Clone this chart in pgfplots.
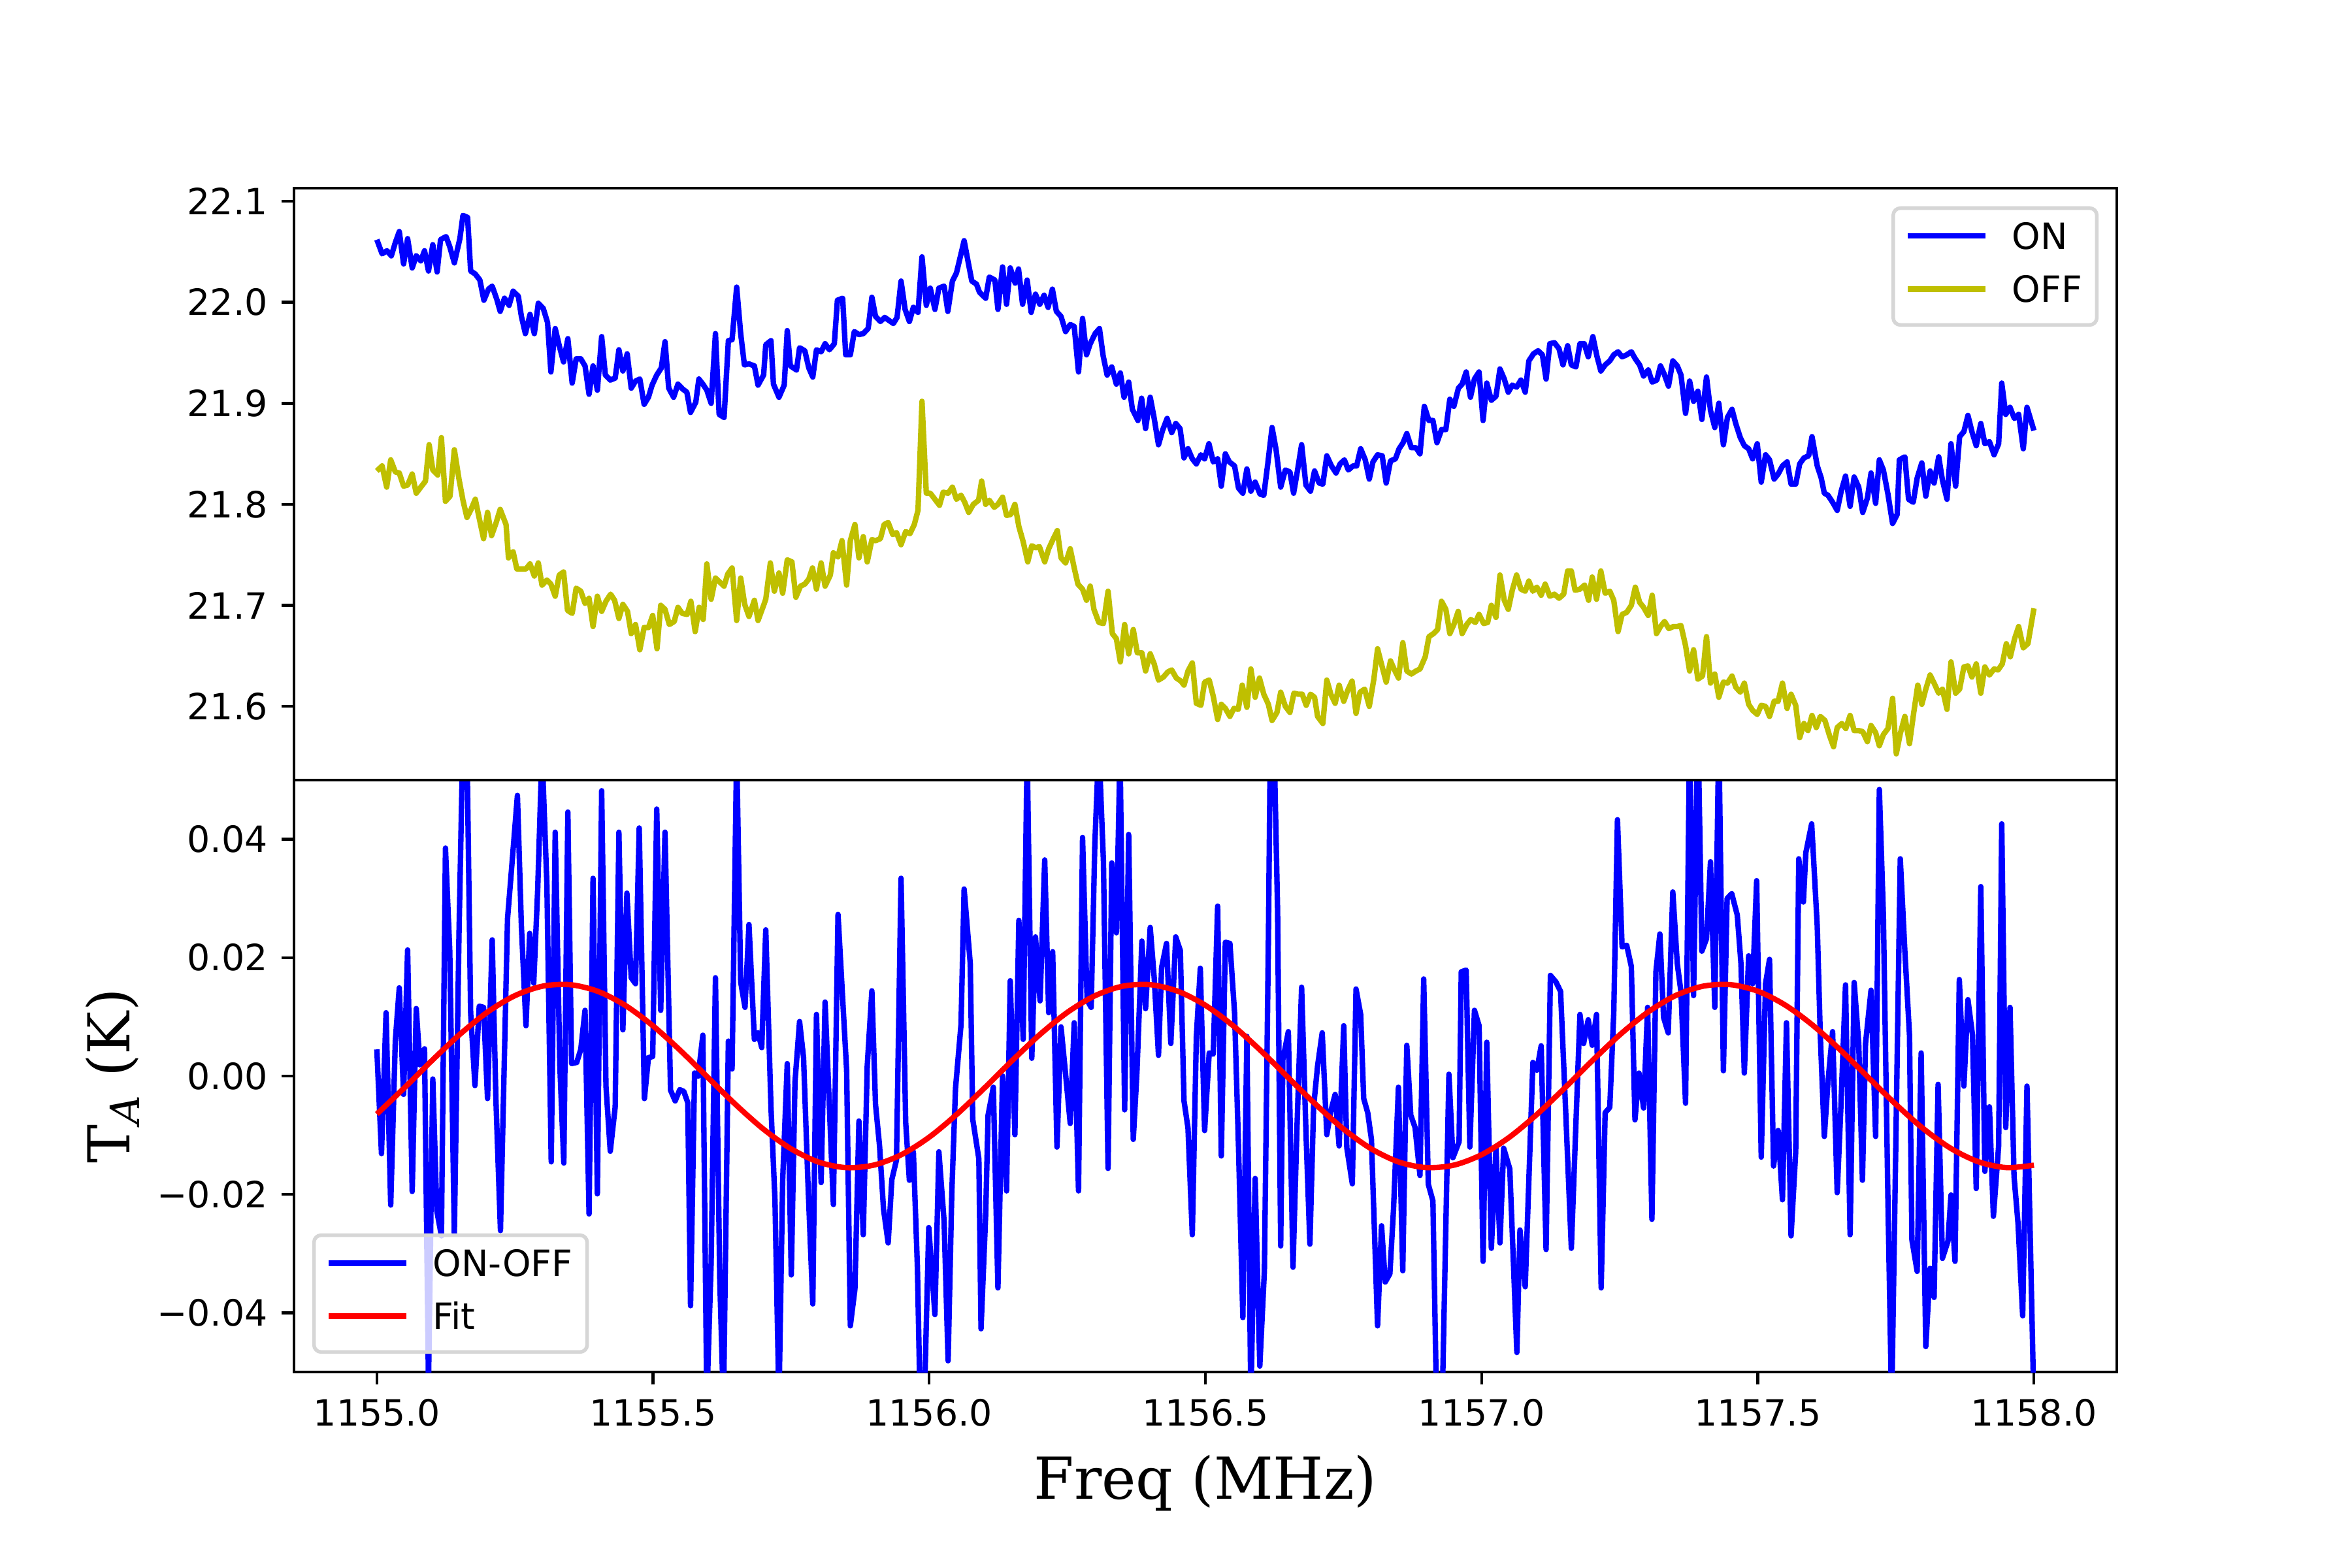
\documentclass[border=0pt]{standalone}
\usepackage{fontspec}
\setmainfont{DejaVu Sans}
\newfontfamily\seriffont{DejaVu Serif}
\usepackage{pgfplots}
\pgfplotsset{compat=1.18}
\usepackage{pgfplotstable}

\definecolor{mplblue}{RGB}{0,0,255}
\definecolor{mplyellow}{RGB}{191,191,0}
\definecolor{mplred}{RGB}{255,0,0}
\definecolor{legedge}{RGB}{214,214,214}

\pgfplotstableread{
f v
1155.0000 22.062
1155.0095 22.048
1155.0184 22.051
1155.0262 22.046
1155.0334 22.059
1155.0406 22.070
1155.0484 22.038
1155.0557 22.063
1155.0640 22.034
1155.0713 22.046
1155.0796 22.041
1155.0863 22.051
1155.0935 22.031
1155.1013 22.057
1155.1091 22.030
1155.1153 22.062
1155.1253 22.065
1155.1320 22.055
1155.1403 22.039
1155.1503 22.063
1155.1559 22.086
1155.1643 22.084
1155.1698 22.031
1155.1782 22.028
1155.1865 22.022
1155.1938 22.002
1155.2021 22.013
1155.2088 22.016
1155.2171 22.003
1155.2233 21.991
1155.2311 22.004
1155.2394 21.997
1155.2467 22.011
1155.2561 22.006
1155.2617 21.986
1155.2689 21.969
1155.2773 21.988
1155.2851 21.969
1155.2923 21.999
1155.3012 21.994
1155.3090 21.980
1155.3151 21.931
1155.3229 21.974
1155.3302 21.957
1155.3380 21.941
1155.3458 21.964
1155.3536 21.920
1155.3608 21.944
1155.3692 21.944
1155.3769 21.937
1155.3842 21.909
1155.3914 21.937
1155.3992 21.913
1155.4070 21.966
1155.4137 21.928
1155.4226 21.923
1155.4315 21.925
1155.4382 21.953
1155.4454 21.932
1155.4532 21.949
1155.4605 21.915
1155.4683 21.922
1155.4761 21.924
1155.4839 21.899
1155.4917 21.906
1155.4983 21.918
1155.5067 21.928
1155.5150 21.935
1155.5217 21.961
1155.5284 21.915
1155.5373 21.906
1155.5451 21.919
1155.5540 21.914
1155.5612 21.911
1155.5679 21.891
1155.5774 21.901
1155.5830 21.924
1155.5902 21.919
1155.5974 21.913
1155.6052 21.900
1155.6130 21.969
1155.6197 21.889
1155.6286 21.886
1155.6364 21.962
1155.6431 21.963
1155.6514 22.015
1155.6587 21.969
1155.6654 21.938
1155.6737 21.939
1155.6835 21.937
1155.6901 21.918
1155.7002 21.928
1155.7041 21.958
1155.7135 21.962
1155.7180 21.919
1155.7280 21.906
1155.7375 21.918
1155.7430 21.972
1155.7486 21.937
1155.7597 21.933
1155.7653 21.955
1155.7748 21.952
1155.7820 21.935
1155.7892 21.926
1155.7959 21.953
1155.8043 21.951
1155.8115 21.959
1155.8193 21.953
1155.8282 21.959
1155.8338 22.002
1155.8433 22.004
1155.8488 21.948
1155.8572 21.948
1155.8644 21.971
1155.8728 21.968
1155.8806 21.969
1155.8895 21.974
1155.8962 22.005
1155.9028 21.986
1155.9117 21.981
1155.9195 21.985
1155.9273 21.982
1155.9351 21.979
1155.9418 21.985
1155.9490 22.021
1155.9563 21.993
1155.9641 21.981
1155.9713 21.995
1155.9797 21.990
1155.9869 22.045
1155.9947 21.997
1156.0019 22.014
1156.0103 21.993
1156.0175 22.014
1156.0270 22.016
1156.0337 21.991
1156.0420 22.021
1156.0493 22.029
1156.0576 22.048
1156.0632 22.061
1156.0715 22.037
1156.0771 22.021
1156.0855 22.018
1156.0910 22.010
1156.1022 22.004
1156.1088 22.025
1156.1189 22.022
1156.1244 21.993
1156.1328 22.035
1156.1400 21.998
1156.1467 22.034
1156.1556 22.019
1156.1617 22.033
1156.1690 21.998
1156.1773 22.022
1156.1846 21.990
1156.1924 22.008
1156.2002 21.998
1156.2080 22.007
1156.2152 21.995
1156.2230 22.013
1156.2302 21.991
1156.2386 21.986
1156.2469 21.971
1156.2553 21.978
1156.2625 21.976
1156.2703 21.931
1156.2776 21.984
1156.2848 21.948
1156.2915 21.959
1156.3004 21.969
1156.3082 21.974
1156.3149 21.947
1156.3221 21.928
1156.3305 21.936
1156.3388 21.919
1156.3460 21.930
1156.3527 21.906
1156.3611 21.921
1156.3678 21.894
1156.3778 21.883
1156.3845 21.905
1156.3917 21.875
1156.4001 21.906
1156.4067 21.887
1156.4151 21.859
1156.4223 21.873
1156.4307 21.885
1156.4390 21.871
1156.4463 21.880
1156.4541 21.875
1156.4613 21.846
1156.4685 21.855
1156.4763 21.845
1156.4836 21.840
1156.4919 21.849
1156.4986 21.845
1156.5064 21.860
1156.5142 21.842
1156.5222 21.845
1156.5288 21.818
1156.5361 21.850
1156.5433 21.842
1156.5528 21.838
1156.5600 21.816
1156.5678 21.811
1156.5751 21.835
1156.5823 21.813
1156.5901 21.822
1156.5990 21.810
1156.6057 21.809
1156.6129 21.840
1156.6207 21.876
1156.6280 21.854
1156.6363 21.817
1156.6447 21.834
1156.6530 21.832
1156.6597 21.811
1156.6669 21.834
1156.6742 21.859
1156.6820 21.819
1156.6903 21.813
1156.6976 21.833
1156.7059 21.821
1156.7126 21.820
1156.7198 21.848
1156.7282 21.838
1156.7365 21.831
1156.7438 21.840
1156.7516 21.844
1156.7588 21.834
1156.7672 21.838
1156.7738 21.838
1156.7811 21.855
1156.7894 21.844
1156.7967 21.825
1156.8033 21.842
1156.8117 21.849
1156.8201 21.848
1156.8273 21.821
1156.8351 21.843
1156.8440 21.845
1156.8507 21.855
1156.8579 21.861
1156.8646 21.870
1156.8729 21.856
1156.8813 21.856
1156.8885 21.850
1156.8963 21.897
1156.9047 21.883
1156.9119 21.883
1156.9192 21.861
1156.9275 21.874
1156.9353 21.874
1156.9425 21.904
1156.9498 21.897
1156.9581 21.915
1156.9648 21.919
1156.9721 21.931
1156.9799 21.906
1156.9871 21.924
1156.9954 21.931
1157.0027 21.883
1157.0094 21.920
1157.0177 21.903
1157.0261 21.907
1157.0333 21.934
1157.0411 21.924
1157.0483 21.911
1157.0556 21.918
1157.0634 21.916
1157.0712 21.923
1157.0790 21.911
1157.0856 21.942
1157.0940 21.949
1157.1023 21.952
1157.1101 21.948
1157.1168 21.924
1157.1235 21.959
1157.1319 21.960
1157.1402 21.954
1157.1474 21.938
1157.1558 21.957
1157.1625 21.938
1157.1708 21.936
1157.1781 21.959
1157.1859 21.959
1157.1931 21.946
1157.2015 21.966
1157.2087 21.947
1157.2159 21.932
1157.2237 21.938
1157.2321 21.942
1157.2393 21.948
1157.2471 21.951
1157.2544 21.946
1157.2627 21.948
1157.2711 21.951
1157.2783 21.944
1157.2861 21.938
1157.2933 21.927
1157.3017 21.933
1157.3089 21.921
1157.3173 21.923
1157.3239 21.937
1157.3306 21.929
1157.3384 21.917
1157.3462 21.942
1157.3543 21.937
1157.3610 21.928
1157.3693 21.890
1157.3766 21.922
1157.3838 21.902
1157.3916 21.912
1157.3988 21.884
1157.4072 21.926
1157.4144 21.893
1157.4222 21.876
1157.4295 21.900
1157.4378 21.859
1157.4451 21.886
1157.4534 21.894
1157.4601 21.880
1157.4684 21.866
1157.4757 21.858
1157.4835 21.855
1157.4907 21.845
1157.4991 21.860
1157.5063 21.822
1157.5141 21.849
1157.5213 21.844
1157.5297 21.825
1157.5369 21.830
1157.5447 21.838
1157.5531 21.842
1157.5603 21.820
1157.5687 21.820
1157.5759 21.840
1157.5837 21.846
1157.5921 21.848
1157.5982 21.867
1157.6077 21.838
1157.6149 21.826
1157.6205 21.811
1157.6271 21.809
1157.6355 21.802
1157.6438 21.794
1157.6511 21.813
1157.6589 21.828
1157.6672 21.798
1157.6745 21.827
1157.6828 21.817
1157.6900 21.792
1157.6984 21.806
1157.7051 21.831
1157.7134 21.801
1157.7201 21.844
1157.7274 21.834
1157.7357 21.810
1157.7441 21.781
1157.7524 21.790
1157.7563 21.844
1157.7663 21.847
1157.7730 21.805
1157.7814 21.802
1157.7886 21.826
1157.7970 21.841
1157.8042 21.808
1157.8120 21.833
1157.8192 21.821
1157.8276 21.847
1157.8343 21.824
1157.8426 21.805
1157.8498 21.860
1157.8582 21.818
1157.8654 21.867
1157.8732 21.872
1157.8805 21.888
1157.8877 21.872
1157.8955 21.858
1157.9038 21.880
1157.9111 21.860
1157.9194 21.862
1157.9278 21.849
1157.9361 21.860
1157.9417 21.920
1157.9489 21.889
1157.9567 21.896
1157.9645 21.885
1157.9723 21.889
1157.9807 21.855
1157.9874 21.896
1158.0000 21.873
}\onTable

\pgfplotstableread{
f v
1155.0000 21.833
1155.0095 21.838
1155.0178 21.817
1155.0251 21.844
1155.0334 21.832
1155.0406 21.831
1155.0484 21.818
1155.0557 21.819
1155.0640 21.830
1155.0713 21.811
1155.0796 21.817
1155.0880 21.823
1155.0947 21.859
1155.1013 21.834
1155.1102 21.829
1155.1169 21.866
1155.1242 21.803
1155.1325 21.808
1155.1403 21.854
1155.1487 21.825
1155.1559 21.804
1155.1631 21.787
1155.1698 21.794
1155.1782 21.805
1155.1854 21.786
1155.1932 21.766
1155.2004 21.792
1155.2077 21.769
1155.2155 21.781
1155.2233 21.795
1155.2339 21.780
1155.2383 21.747
1155.2467 21.753
1155.2534 21.736
1155.2617 21.736
1155.2700 21.736
1155.2773 21.741
1155.2851 21.729
1155.2923 21.742
1155.2990 21.720
1155.3079 21.725
1155.3151 21.721
1155.3229 21.709
1155.3302 21.730
1155.3380 21.733
1155.3452 21.695
1155.3536 21.692
1155.3608 21.717
1155.3692 21.714
1155.3769 21.702
1155.3842 21.707
1155.3914 21.679
1155.3992 21.709
1155.4070 21.694
1155.4148 21.704
1155.4232 21.711
1155.4304 21.705
1155.4382 21.687
1155.4454 21.701
1155.4538 21.694
1155.4605 21.672
1155.4683 21.681
1155.4761 21.656
1155.4839 21.678
1155.4917 21.678
1155.4994 21.690
1155.5072 21.657
1155.5139 21.700
1155.5217 21.696
1155.5295 21.681
1155.5384 21.684
1155.5451 21.698
1155.5529 21.692
1155.5618 21.691
1155.5685 21.704
1155.5763 21.674
1155.5835 21.698
1155.5908 21.686
1155.5974 21.741
1155.6052 21.706
1155.6130 21.727
1155.6208 21.723
1155.6286 21.719
1155.6353 21.731
1155.6431 21.737
1155.6514 21.685
1155.6587 21.727
1155.6659 21.701
1155.6737 21.689
1155.6835 21.705
1155.6901 21.685
1155.7002 21.700
1155.7041 21.706
1155.7124 21.742
1155.7196 21.714
1155.7280 21.732
1155.7347 21.712
1155.7430 21.745
1155.7514 21.743
1155.7586 21.708
1155.7670 21.719
1155.7748 21.721
1155.7820 21.726
1155.7887 21.737
1155.7959 21.716
1155.8043 21.742
1155.8115 21.719
1155.8210 21.730
1155.8265 21.752
1155.8349 21.748
1155.8421 21.764
1155.8505 21.720
1155.8572 21.764
1155.8655 21.780
1155.8728 21.747
1155.8806 21.768
1155.8878 21.743
1155.8962 21.765
1155.9028 21.764
1155.9117 21.766
1155.9184 21.780
1155.9257 21.782
1155.9340 21.770
1155.9407 21.772
1155.9490 21.760
1155.9574 21.773
1155.9652 21.771
1155.9730 21.780
1155.9797 21.794
1155.9869 21.902
1155.9947 21.811
1156.0019 21.811
1156.0103 21.805
1156.0186 21.799
1156.0253 21.812
1156.0342 21.811
1156.0420 21.817
1156.0493 21.805
1156.0576 21.809
1156.0643 21.802
1156.0715 21.792
1156.0799 21.800
1156.0894 21.804
1156.0949 21.823
1156.1022 21.800
1156.1088 21.804
1156.1177 21.797
1156.1244 21.800
1156.1328 21.807
1156.1400 21.789
1156.1478 21.790
1156.1551 21.800
1156.1623 21.778
1156.1701 21.763
1156.1784 21.743
1156.1857 21.759
1156.1924 21.757
1156.1996 21.758
1156.2091 21.743
1156.2163 21.756
1156.2247 21.766
1156.2319 21.774
1156.2386 21.747
1156.2469 21.742
1156.2553 21.756
1156.2625 21.737
1156.2692 21.721
1156.2776 21.716
1156.2848 21.705
1156.2915 21.719
1156.2982 21.696
1156.3071 21.683
1156.3154 21.682
1156.3238 21.714
1156.3316 21.672
1156.3388 21.667
1156.3460 21.644
1156.3538 21.681
1156.3611 21.652
1156.3694 21.676
1156.3767 21.653
1156.3850 21.653
1156.3917 21.635
1156.4001 21.652
1156.4073 21.642
1156.4151 21.626
1156.4240 21.629
1156.4318 21.634
1156.4390 21.636
1156.4474 21.628
1156.4557 21.625
1156.4613 21.621
1156.4685 21.635
1156.4763 21.643
1156.4836 21.603
1156.4919 21.601
1156.4986 21.624
1156.5069 21.626
1156.5142 21.610
1156.5222 21.587
1156.5288 21.602
1156.5361 21.598
1156.5444 21.590
1156.5517 21.598
1156.5595 21.597
1156.5667 21.621
1156.5751 21.599
1156.5823 21.637
1156.5901 21.609
1156.5979 21.628
1156.6057 21.612
1156.6140 21.602
1156.6207 21.586
1156.6296 21.594
1156.6363 21.614
1156.6447 21.600
1156.6530 21.594
1156.6603 21.613
1156.6680 21.612
1156.6753 21.612
1156.6825 21.601
1156.6903 21.612
1156.6976 21.609
1156.7031 21.590
1156.7126 21.583
1156.7198 21.626
1156.7271 21.612
1156.7349 21.603
1156.7421 21.621
1156.7505 21.605
1156.7577 21.616
1156.7655 21.625
1156.7727 21.593
1156.7800 21.614
1156.7883 21.617
1156.7967 21.600
1156.8050 21.627
1156.8117 21.657
1156.8201 21.639
1156.8273 21.624
1156.8351 21.645
1156.8423 21.636
1156.8496 21.628
1156.8574 21.663
1156.8646 21.635
1156.8729 21.632
1156.8813 21.635
1156.8885 21.637
1156.8980 21.649
1156.9047 21.669
1156.9130 21.672
1156.9203 21.676
1156.9275 21.704
1156.9353 21.696
1156.9425 21.672
1156.9498 21.681
1156.9576 21.694
1156.9648 21.672
1156.9732 21.681
1156.9804 21.686
1156.9888 21.683
1156.9954 21.691
1157.0038 21.682
1157.0110 21.683
1157.0177 21.700
1157.0261 21.688
1157.0333 21.730
1157.0411 21.705
1157.0483 21.696
1157.0556 21.715
1157.0634 21.730
1157.0712 21.716
1157.0790 21.714
1157.0856 21.724
1157.0929 21.714
1157.1001 21.718
1157.1079 21.710
1157.1151 21.721
1157.1235 21.709
1157.1319 21.711
1157.1402 21.707
1157.1486 21.711
1157.1558 21.734
1157.1625 21.734
1157.1692 21.715
1157.1781 21.716
1157.1864 21.720
1157.1937 21.705
1157.2003 21.728
1157.2081 21.706
1157.2159 21.734
1157.2237 21.712
1157.2321 21.714
1157.2393 21.705
1157.2471 21.674
1157.2544 21.691
1157.2627 21.693
1157.2711 21.700
1157.2783 21.718
1157.2861 21.703
1157.2933 21.698
1157.3017 21.690
1157.3089 21.710
1157.3167 21.672
1157.3239 21.679
1157.3312 21.684
1157.3390 21.677
1157.3473 21.679
1157.3543 21.679
1157.3610 21.680
1157.3693 21.660
1157.3766 21.635
1157.3838 21.656
1157.3916 21.627
1157.4000 21.630
1157.4072 21.669
1157.4144 21.623
1157.4222 21.632
1157.4295 21.609
1157.4378 21.624
1157.4451 21.623
1157.4534 21.630
1157.4601 21.619
1157.4684 21.614
1157.4757 21.623
1157.4835 21.602
1157.4907 21.596
1157.4991 21.592
1157.5063 21.601
1157.5141 21.600
1157.5213 21.590
1157.5297 21.605
1157.5369 21.605
1157.5447 21.623
1157.5531 21.598
1157.5603 21.612
1157.5687 21.601
1157.5759 21.569
1157.5837 21.583
1157.5909 21.576
1157.5982 21.591
1157.6060 21.579
1157.6132 21.590
1157.6216 21.586
1157.6299 21.571
1157.6372 21.560
1157.6438 21.579
1157.6522 21.583
1157.6594 21.578
1157.6672 21.591
1157.6745 21.576
1157.6828 21.576
1157.6900 21.575
1157.6984 21.565
1157.7051 21.581
1157.7134 21.574
1157.7201 21.561
1157.7274 21.572
1157.7357 21.578
1157.7441 21.608
1157.7508 21.553
1157.7580 21.573
1157.7663 21.590
1157.7747 21.563
1157.7819 21.592
1157.7897 21.621
1157.7970 21.602
1157.8042 21.617
1157.8120 21.631
1157.8192 21.623
1157.8276 21.613
1157.8343 21.617
1157.8426 21.597
1157.8498 21.644
1157.8582 21.613
1157.8654 21.617
1157.8732 21.639
1157.8805 21.640
1157.8877 21.629
1157.8955 21.642
1157.9038 21.613
1157.9111 21.639
1157.9194 21.631
1157.9278 21.637
1157.9350 21.636
1157.9427 21.642
1157.9500 21.662
1157.9572 21.649
1157.9650 21.667
1157.9723 21.679
1157.9807 21.658
1157.9891 21.662
1158.0000 21.697
}\offTable

\pgfplotstableread{
f v
1155.0000 0.0045
1155.0084 -0.0131
1155.0167 0.0107
1155.0251 -0.0218
1155.0334 0.0059
1155.0406 0.0149
1155.0484 -0.0031
1155.0557 0.0213
1155.0640 -0.0195
1155.0713 0.0114
1155.0780 0.0019
1155.0863 0.0046
1155.0935 -0.0520
1155.1013 -0.0005
1155.1086 -0.0228
1155.1169 -0.0270
1155.1242 0.0385
1155.1320 0.0211
1155.1403 -0.0266
1155.1487 0.0239
1155.1559 0.0580
1155.1631 0.0560
1155.1698 0.0107
1155.1776 -0.0016
1155.1854 0.0118
1155.1932 0.0116
1155.2004 -0.0038
1155.2088 0.0230
1155.2155 -0.0038
1155.2238 -0.0261
1155.2366 0.0266
1155.2433 0.0343
1155.2545 0.0474
1155.2617 0.0253
1155.2700 0.0085
1155.2767 0.0241
1155.2840 0.0157
1155.2912 0.0315
1155.2990 0.0550
1155.3079 0.0322
1155.3157 -0.0145
1155.3229 0.0412
1155.3313 0.0017
1155.3385 -0.0147
1155.3458 0.0446
1155.3525 0.0021
1155.3619 0.0023
1155.3692 0.0045
1155.3769 0.0111
1155.3842 -0.0233
1155.3914 0.0334
1155.3992 -0.0199
1155.4070 0.0482
1155.4148 -0.0017
1155.4226 -0.0127
1155.4315 -0.0052
1155.4382 0.0412
1155.4454 0.0078
1155.4527 0.0309
1155.4605 0.0166
1155.4683 0.0156
1155.4750 0.0419
1155.4844 -0.0038
1155.4917 0.0031
1155.4994 0.0033
1155.5067 0.0451
1155.5139 0.0111
1155.5217 0.0412
1155.5317 -0.0024
1155.5401 -0.0042
1155.5484 -0.0023
1155.5557 -0.0026
1155.5629 -0.0045
1155.5679 -0.0388
1155.5752 0.0005
1155.5818 0.0000
1155.5902 0.0069
1155.5974 -0.0550
1155.6052 -0.0315
1155.6130 0.0166
1155.6208 -0.0343
1155.6275 -0.0560
1155.6364 0.0059
1155.6431 0.0012
1155.6514 0.0550
1155.6587 0.0159
1155.6665 0.0116
1155.6737 0.0256
1155.6835 0.0062
1155.6901 0.0073
1155.6968 0.0048
1155.7041 0.0247
1155.7135 -0.0052
1155.7208 -0.0211
1155.7280 -0.0550
1155.7347 -0.0176
1155.7430 0.0021
1155.7503 -0.0336
1155.7570 -0.0010
1155.7653 0.0092
1155.7725 0.0031
1155.7803 -0.0176
1155.7892 -0.0385
1155.7959 0.0104
1155.8043 -0.0180
1155.8115 0.0125
1155.8193 -0.0052
1155.8265 -0.0217
1155.8349 0.0273
1155.8433 0.0131
1155.8505 0.0010
1155.8572 -0.0422
1155.8655 -0.0360
1155.8728 -0.0076
1155.8806 -0.0268
1155.8878 0.0017
1155.8962 0.0144
1155.9028 -0.0048
1155.9101 -0.0118
1155.9173 -0.0225
1155.9257 -0.0282
1155.9323 -0.0175
1155.9407 -0.0142
1155.9490 0.0334
1155.9574 -0.0078
1155.9641 -0.0176
1155.9713 -0.0128
1155.9786 -0.0322
1155.9841 -0.0580
1155.9909 -0.0560
1155.9992 -0.0256
1156.0103 -0.0403
1156.0175 -0.0128
1156.0270 -0.0246
1156.0342 -0.0481
1156.0409 -0.0197
1156.0476 -0.0021
1156.0576 0.0087
1156.0632 0.0316
1156.0743 0.0190
1156.0788 -0.0073
1156.0899 -0.0140
1156.0938 -0.0427
1156.1022 -0.0235
1156.1066 -0.0066
1156.1161 -0.0019
1156.1244 -0.0358
1156.1328 0.0000
1156.1400 -0.0194
1156.1467 0.0161
1156.1551 -0.0099
1156.1623 0.0263
1156.1701 0.0062
1156.1773 0.0550
1156.1857 0.0030
1156.1924 0.0235
1156.2007 0.0127
1156.2091 0.0365
1156.2163 0.0107
1156.2235 0.0210
1156.2313 -0.0120
1156.2386 0.0083
1156.2469 0.0003
1156.2553 -0.0080
1156.2625 0.0090
1156.2703 -0.0194
1156.2776 0.0403
1156.2859 0.0128
1156.2932 0.0116
1156.2998 0.0391
1156.3071 0.0560
1156.3154 0.0363
1156.3238 -0.0156
1156.3305 0.0360
1156.3388 0.0242
1156.3455 0.0550
1156.3538 -0.0057
1156.3611 0.0408
1156.3694 -0.0107
1156.3761 0.0007
1156.3850 0.0228
1156.3917 0.0114
1156.4001 0.0251
1156.4073 0.0166
1156.4151 0.0035
1156.4207 0.0183
1156.4296 0.0224
1156.4374 0.0055
1156.4463 0.0235
1156.4546 0.0212
1156.4613 -0.0042
1156.4685 -0.0088
1156.4763 -0.0268
1156.4836 0.0066
1156.4908 0.0182
1156.4986 -0.0092
1156.5069 0.0039
1156.5142 0.0037
1156.5222 0.0287
1156.5288 -0.0135
1156.5361 0.0226
1156.5444 0.0224
1156.5528 0.0107
1156.5600 -0.0121
1156.5678 -0.0408
1156.5751 0.0067
1156.5823 -0.0550
1156.5901 -0.0173
1156.5985 -0.0490
1156.6068 -0.0329
1156.6140 0.0225
1156.6179 0.0600
1156.6235 0.0600
1156.6307 0.0280
1156.6363 -0.0287
1156.6402 0.0028
1156.6502 0.0075
1156.6586 -0.0323
1156.6658 -0.0087
1156.6742 0.0150
1156.6820 -0.0093
1156.6892 -0.0284
1156.6959 -0.0052
1156.7031 0.0017
1156.7115 0.0073
1156.7198 -0.0099
1156.7271 -0.0059
1156.7349 -0.0031
1156.7421 -0.0118
1156.7505 0.0085
1156.7560 -0.0121
1156.7660 -0.0182
1156.7727 0.0147
1156.7811 0.0104
1156.7866 -0.0038
1156.7939 -0.0062
1156.8006 -0.0107
1156.8117 -0.0422
1156.8189 -0.0253
1156.8256 -0.0348
1156.8340 -0.0334
1156.8406 -0.0225
1156.8495 -0.0019
1156.8573 -0.0329
1156.8646 0.0052
1156.8718 -0.0066
1156.8796 -0.0087
1156.8885 -0.0168
1156.8952 0.0164
1156.9036 -0.0183
1156.9119 -0.0211
1156.9186 -0.0560
1156.9286 -0.0560
1156.9409 0.0003
1156.9481 -0.0138
1156.9593 -0.0111
1156.9632 0.0176
1156.9721 0.0179
1156.9788 -0.0120
1156.9871 0.0111
1156.9955 0.0085
1157.0027 -0.0313
1157.0094 0.0057
1157.0177 -0.0291
1157.0261 -0.0122
1157.0333 -0.0282
1157.0400 -0.0122
1157.0511 -0.0157
1157.0639 -0.0467
1157.0695 -0.0260
1157.0790 -0.0356
1157.0929 0.0023
1157.1001 0.0010
1157.1079 0.0051
1157.1168 -0.0293
1157.1246 0.0170
1157.1346 0.0159
1157.1430 0.0143
1157.1513 -0.0038
1157.1625 -0.0291
1157.1708 -0.0080
1157.1781 0.0104
1157.1847 0.0055
1157.1931 0.0095
1157.2003 0.0052
1157.2081 0.0104
1157.2165 -0.0358
1157.2237 -0.0062
1157.2321 -0.0053
1157.2393 0.0107
1157.2460 0.0433
1157.2544 0.0218
1157.2627 0.0221
1157.2711 0.0185
1157.2777 -0.0074
1157.2850 0.0005
1157.2933 -0.0054
1157.3006 0.0116
1157.3084 -0.0242
1157.3156 0.0176
1157.3228 0.0240
1157.3295 0.0099
1157.3379 0.0073
1157.3462 0.0311
1157.3543 0.0190
1157.3610 0.0142
1157.3693 -0.0046
1157.3766 0.0580
1157.3838 0.0136
1157.3916 0.0600
1157.3988 0.0211
1157.4072 0.0232
1157.4144 0.0362
1157.4222 0.0116
1157.4295 0.0580
1157.4378 0.0009
1157.4445 0.0300
1157.4529 0.0308
1157.4629 0.0272
1157.4696 0.0190
1157.4757 0.0005
1157.4835 0.0203
1157.4907 0.0156
1157.4980 0.0330
1157.5063 -0.0137
1157.5141 0.0156
1157.5213 0.0197
1157.5286 -0.0152
1157.5369 -0.0092
1157.5447 -0.0209
1157.5520 0.0090
1157.5603 -0.0270
1157.5687 -0.0128
1157.5742 0.0367
1157.5826 0.0294
1157.5870 0.0377
1157.5976 0.0426
1157.6077 0.0253
1157.6132 0.0069
1157.6205 -0.0102
1157.6271 -0.0010
1157.6355 0.0075
1157.6438 -0.0197
1157.6505 -0.0052
1157.6589 0.0154
1157.6672 -0.0268
1157.6745 0.0158
1157.6828 0.0055
1157.6895 -0.0176
1157.6951 0.0055
1157.7051 0.0145
1157.7134 -0.0102
1157.7201 0.0484
1157.7274 0.0273
1157.7357 -0.0211
1157.7424 -0.0560
1157.7496 -0.0135
1157.7580 0.0367
1157.7663 0.0211
1157.7747 0.0069
1157.7791 -0.0277
1157.7886 -0.0330
1157.7958 0.0039
1157.8042 -0.0457
1157.8120 -0.0325
1157.8192 -0.0374
1157.8265 -0.0014
1157.8343 -0.0308
1157.8443 -0.0279
1157.8498 -0.0201
1157.8571 -0.0313
1157.8649 0.0163
1157.8732 -0.0017
1157.8805 0.0129
1157.8888 0.0069
1157.8955 -0.0190
1157.9038 0.0320
1157.9111 -0.0161
1157.9194 -0.0052
1157.9266 -0.0237
1157.9361 -0.0118
1157.9417 0.0426
1157.9489 -0.0087
1157.9567 0.0116
1157.9640 -0.0170
1157.9712 -0.0249
1157.9796 -0.0405
1157.9874 -0.0017
1158.0000 -0.0560
}\diffTable

\pgfplotstableread{
f v
1155.00 -0.00642
1155.05 -0.00198
1155.10 0.00264
1155.15 0.00702
1155.20 0.01078
1155.25 0.01358
1155.30 0.01518
1155.35 0.01543
1155.40 0.01431
1155.45 0.01192
1155.50 0.00847
1155.55 0.00427
1155.60 -0.00031
1155.65 -0.00486
1155.70 -0.00898
1155.75 -0.01230
1155.80 -0.01454
1155.85 -0.01548
1155.90 -0.01504
1155.95 -0.01327
1156.00 -0.01033
1156.05 -0.00646
1156.10 -0.00202
1156.15 0.00259
1156.20 0.00698
1156.25 0.01075
1156.30 0.01356
1156.35 0.01517
1156.40 0.01543
1156.45 0.01433
1156.50 0.01195
1156.55 0.00851
1156.60 0.00431
1156.65 -0.00027
1156.70 -0.00482
1156.75 -0.00895
1156.80 -0.01228
1156.85 -0.01452
1156.90 -0.01547
1156.95 -0.01505
1157.00 -0.01329
1157.05 -0.01036
1157.10 -0.00650
1157.15 -0.00207
1157.20 0.00255
1157.25 0.00694
1157.30 0.01072
1157.35 0.01354
1157.40 0.01516
1157.45 0.01544
1157.50 0.01434
1157.55 0.01197
1157.60 0.00855
1157.65 0.00436
1157.70 -0.00022
1157.75 -0.00478
1157.80 -0.00891
1157.85 -0.01225
1157.90 -0.01450
1157.95 -0.01547
1158.00 -0.01506
}\fitTable

\pgfplotsset{
  mplaxis/.style={
    scale only axis,
    width=502.2bp, height=163.08bp,
    xmin=1154.85, xmax=1158.15,
    scaled x ticks=false, scaled y ticks=false,
    axis line style={line width=0.8bp, black},
    tick align=outside,
    major tick length=3.5bp,
    every tick/.style={line width=0.8bp, black},
    xtick pos=left, ytick pos=left,
    tick label style={font=\fontsize{10}{12}\selectfont},
    yticklabel style={anchor=east, inner sep=0pt, xshift=-3.5bp},
    xticklabel style={anchor=north, inner sep=0pt, yshift=-3.8bp},
    legend cell align=left,
    legend image code/.code={\draw[##1, line width=1.5bp, line cap=rect] (0bp,1.1bp) -- (20bp,1.1bp);},
    every axis legend/.append style={
      draw=legedge, line width=1bp, rounded corners=2bp,
      fill=white, fill opacity=0.8, text opacity=1,
      inner xsep=4bp, inner ysep=4bp,
      row sep=5bp, column sep=7.3bp,
      font=\fontsize{10}{12}\selectfont,
      nodes={inner sep=0pt, text height=7.3bp, text depth=2.3bp},
    },
  },
  mplline/.style={line width=1.5bp, line join=round, no markers},
}

\begin{document}
\begin{tikzpicture}
\useasboundingbox (-81bp,-54bp) rectangle (567bp,378bp);

\begin{axis}[mplaxis,
  at={(0bp,0bp)}, anchor=south west,
  ymin=-0.05, ymax=0.05,
  xtick={1155,1155.5,1156,1156.5,1157,1157.5,1158},
  xticklabels={1155.0,1155.5,1156.0,1156.5,1157.0,1157.5,1158.0},
  ytick={-0.04,-0.02,0,0.02,0.04},
  yticklabels={−0.04,−0.02,0.00,0.02,0.04},
  xlabel={\seriffont\fontsize{16}{19}\selectfont Freq (MHz)},
  xlabel style={at={([yshift=-35bp]axis description cs:0.5,0)}, anchor=base},
  ylabel={\seriffont\fontsize{16}{19}\selectfont T\raisebox{-2.8bp}{\fontsize{11.2}{13}\selectfont\itshape A} (K)},
  ylabel style={at={([xshift=-45.3bp]axis description cs:0,0.5)}, rotate=0, anchor=base},
  legend style={at={([xshift=5bp,yshift=5bp]axis description cs:0,0)}, anchor=south west},
]
\addplot[mplline, color=mplblue] table[x=f, y=v] {\diffTable};
\addlegendentry{ON-OFF}
\addplot[mplline, color=mplred, smooth] table[x=f, y=v] {\fitTable};
\addlegendentry{Fit}
\end{axis}

\begin{axis}[mplaxis,
  at={(0bp,163.08bp)}, anchor=south west,
  ymin=21.527, ymax=22.113,
  xtick=\empty,
  ytick={21.6,21.7,21.8,21.9,22.0,22.1},
  yticklabels={21.6,21.7,21.8,21.9,22.0,22.1},
  legend style={at={([xshift=-5bp,yshift=-5bp]axis description cs:1,1)}, anchor=north east},
]
\addplot[mplline, color=mplblue] table[x=f, y=v] {\onTable};
\addlegendentry{ON}
\addplot[mplline, color=mplyellow] table[x=f, y=v] {\offTable};
\addlegendentry{OFF}
\end{axis}
\end{tikzpicture}
\end{document}
